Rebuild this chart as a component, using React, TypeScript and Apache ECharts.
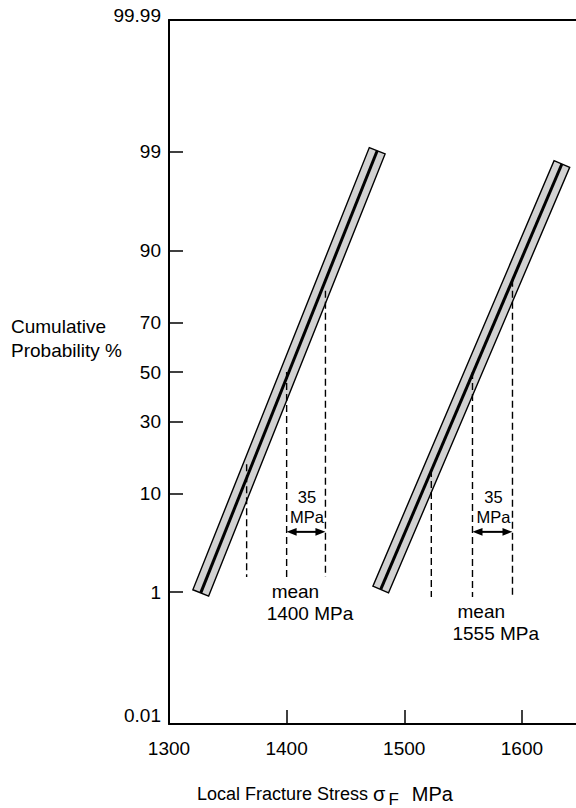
import React, { useEffect, useRef } from 'react';
import * as echarts from 'echarts';

const FONT = '"Liberation Sans", Arial, Helvetica, sans-serif';

// ---- axis ticks / labels ----
const xLabelValues = [1300, 1400, 1500, 1600];
const xTickValues = [1400, 1500, 1600];
const yLabelProbs = [99.99, 99, 90, 70, 50, 30, 10, 1, 0.01];
const yTickProbs = [99, 90, 70, 50, 30, 10, 1];

// ---- fitted distributions (band end points: stress MPa, cumulative probability %) ----
const meanLabels = ['1400 MPa', '1555 MPa'];
const bandLowStress = [1327, 1480];
const bandLowProb = [0.98, 1.08];
const bandHighStress = [1477, 1634];
const bandHighProb = [99.03, 98.6];

// ---- dashed guide lines (stress MPa, top / bottom probability %) ----
const guideLeftStress = [1366, 1523];
const guideMeanStress = [1400, 1558];
const guideRightStress = [1433, 1592];
const guideLeftTopProb = [16.5, 15];
const guideMeanTopProb = [50, 50];
const guideRightTopProb = [80.5, 83.5];
const guideBottomProb = [1.52, 0.875];

// ---- spread arrows ----
const spreadProb = [4.56, 4.56];
const spreadLabel = ['35\nMPa', '35\nMPa'];

// inverse standard normal CDF (Acklam) – the probability-paper scale
function probit(pct: number): number {
  const p = pct / 100;
  const a = [-3.969683028665376e1, 2.209460984245205e2, -2.759285104469687e2, 1.38357751867269e2, -3.066479806614716e1, 2.506628277459239];
  const b = [-5.447609879822406e1, 1.615858368580409e2, -1.556989798598866e2, 6.680131188771972e1, -1.328068155288572e1];
  const c = [-7.784894002430293e-3, -3.223964580411365e-1, -2.400758277161838, -2.549732539343734, 4.374664141464968, 2.938163982698783];
  const d = [7.784695709041462e-3, 3.224671290700398e-1, 2.445134137142996, 3.754408661907416];
  const pl = 0.02425;
  let q: number, r: number;
  if (p < pl) {
    q = Math.sqrt(-2 * Math.log(p));
    return (((((c[0] * q + c[1]) * q + c[2]) * q + c[3]) * q + c[4]) * q + c[5]) / ((((d[0] * q + d[1]) * q + d[2]) * q + d[3]) * q + 1);
  }
  if (p <= 1 - pl) {
    q = p - 0.5;
    r = q * q;
    return ((((((a[0] * r + a[1]) * r + a[2]) * r + a[3]) * r + a[4]) * r + a[5]) * q) / (((((b[0] * r + b[1]) * r + b[2]) * r + b[3]) * r + b[4]) * r + 1);
  }
  q = Math.sqrt(-2 * Math.log(1 - p));
  return -(((((c[0] * q + c[1]) * q + c[2]) * q + c[3]) * q + c[4]) * q + c[5]) / ((((d[0] * q + d[1]) * q + d[2]) * q + d[3]) * q + 1);
}

const Y_MIN = probit(0.01);
const Y_MAX = probit(99.99);

function txt(text: string, x: number, y: number, size: number, align: string, valign: string, lineHeight?: number) {
  return {
    type: 'text',
    x,
    y,
    style: {
      text,
      fill: '#000',
      font: `${size}px ${FONT}`,
      fontSize: size,
      fontFamily: FONT,
      lineHeight: lineHeight || size * 1.2,
      align,
      verticalAlign: valign,
      textAlign: align,
      textVerticalAlign: valign,
    },
  };
}

export default function App() {
  const ref = useRef<HTMLDivElement>(null);

  useEffect(() => {
    if (!ref.current) return;
    const chart = echarts.init(ref.current, null, { renderer: 'svg' });

    const renderItem = (params: any, api: any) => {
      const i = params.dataIndex;
      const H = 8.5;
      const p0 = api.coord([bandLowStress[i], probit(bandLowProb[i])]);
      const p1 = api.coord([bandHighStress[i], probit(bandHighProb[i])]);
      const dx = p1[0] - p0[0];
      const dy = p1[1] - p0[1];
      const len = Math.hypot(dx, dy);
      const nx = (-dy / len) * H;
      const ny = (dx / len) * H;
      const children: any[] = [];
      children.push({
        type: 'polygon',
        shape: {
          points: [
            [p0[0] + nx, p0[1] + ny],
            [p1[0] + nx, p1[1] + ny],
            [p1[0] - nx, p1[1] - ny],
            [p0[0] - nx, p0[1] - ny],
          ],
        },
        style: { fill: '#d2d2d2', stroke: '#000', lineWidth: 1.4 },
      });
      children.push({
        type: 'line',
        shape: { x1: p0[0], y1: p0[1], x2: p1[0], y2: p1[1] },
        style: { stroke: '#000', lineWidth: 3 },
      });
      const guides = [
        [guideLeftStress[i], guideLeftTopProb[i]],
        [guideMeanStress[i], guideMeanTopProb[i]],
        [guideRightStress[i], guideRightTopProb[i]],
      ];
      guides.forEach(([s, top]) => {
        const a = api.coord([s, probit(top)]);
        const b = api.coord([s, probit(guideBottomProb[i])]);
        children.push({
          type: 'line',
          shape: { x1: a[0], y1: a[1], x2: b[0], y2: b[1] },
          style: { stroke: '#000', lineWidth: 1.4, lineDash: [7, 4] },
        });
      });
      // spread arrow
      const ay = api.coord([guideMeanStress[i], probit(spreadProb[i])])[1];
      const xa = api.coord([guideMeanStress[i], 0])[0];
      const xb = api.coord([guideRightStress[i], 0])[0];
      const AL = 10;
      const AW = 3.8;
      children.push({
        type: 'line',
        shape: { x1: xa + AL - 1, y1: ay, x2: xb - AL + 1, y2: ay },
        style: { stroke: '#000', lineWidth: 2 },
      });
      children.push({
        type: 'polygon',
        shape: { points: [[xa, ay], [xa + AL, ay - AW], [xa + AL, ay + AW]] },
        style: { fill: '#000' },
      });
      children.push({
        type: 'polygon',
        shape: { points: [[xb, ay], [xb - AL, ay - AW], [xb - AL, ay + AW]] },
        style: { fill: '#000' },
      });
      children.push(txt(spreadLabel[i], (xa + xb) / 2 + 1, ay - 25, 16.5, 'center', 'middle', 20));
      // mean labels
      const pb = api.coord([guideMeanStress[i], probit(guideBottomProb[i])]);
      children.push(txt('mean', pb[0] - 15, pb[1] + 15, 19, 'left', 'middle'));
      children.push(txt(meanLabels[i], pb[0] - 20, pb[1] + 37, 19, 'left', 'middle'));
      return { type: 'group', children };
    };

    const zLabel = (v: number) => {
      let best = '';
      let bd = Infinity;
      yLabelProbs.forEach((p) => {
        const dd = Math.abs(probit(p) - v);
        if (dd < bd) {
          bd = dd;
          best = String(p);
        }
      });
      if (best === '99.99') return '{up|99.99}';
      if (best === '0.01') return '{dn|0.01}';
      return best;
    };

    const labelRich = {
      up: { fontSize: 19, fontFamily: FONT, color: '#000', padding: [0, 0, 10, 0] },
      dn: { fontSize: 19, fontFamily: FONT, color: '#000', padding: [0, 0, 18, 0] },
    };

    chart.setOption({
      animation: false,
      backgroundColor: '#fff',
      grid: { left: 169, right: 0, top: 20, bottom: 84, containLabel: false },
      xAxis: [
        {
          type: 'value',
          min: 1300,
          max: 1646,
          interval: 100,
          axisLine: { show: true, onZero: false, lineStyle: { color: '#000', width: 2 } },
          axisTick: { show: true, inside: true, length: 14, customValues: xTickValues, lineStyle: { color: '#000', width: 1.5 } },
          axisLabel: {
            show: true,
            customValues: xLabelValues,
            formatter: (v: number) => String(Math.round(v)),
            margin: 15,
            fontSize: 19,
            fontFamily: FONT,
            color: '#000',
          },
          splitLine: { show: false },
        },
        {
          type: 'value',
          position: 'top',
          min: 1300,
          max: 1646,
          axisLine: { show: true, onZero: false, lineStyle: { color: '#000', width: 2 } },
          axisTick: { show: false },
          axisLabel: { show: false },
          splitLine: { show: false },
        },
      ],
      yAxis: {
        type: 'value',
        min: Y_MIN,
        max: Y_MAX,
        axisLine: { show: true, onZero: false, lineStyle: { color: '#000', width: 2 } },
        axisTick: {
          show: true,
          inside: true,
          length: 14,
          customValues: yTickProbs.map(probit),
          lineStyle: { color: '#000', width: 1.5 },
        },
        axisLabel: {
          show: true,
          customValues: yLabelProbs.map(probit),
          formatter: zLabel,
          margin: 8,
          fontSize: 19,
          fontFamily: FONT,
          color: '#000',
          rich: labelRich,
        },
        splitLine: { show: false },
      },
      graphic: [
        {
          type: 'text',
          left: 11,
          top: 315,
          style: {
            text: 'Cumulative\nProbability %',
            font: `19px ${FONT}`,
            fill: '#000',
            lineHeight: 23.5,
          },
        },
        {
          type: 'text',
          left: 197,
          top: 784,
          style: {
            text: '{a|Local Fracture Stress }{s|σ}{sub|F}{m|MPa}',
            rich: {
              a: { fontSize: 18, fontFamily: FONT, color: '#000' },
              s: { fontSize: 20, fontFamily: FONT, color: '#000' },
              sub: { fontSize: 17, fontFamily: FONT, color: '#000', padding: [11, 13, 0, 3] },
              m: { fontSize: 20, fontFamily: FONT, color: '#000' },
            },
          },
        },
      ],
      series: [
        {
          type: 'custom',
          xAxisIndex: 0,
          yAxisIndex: 0,
          clip: false,
          renderItem,
          data: bandLowStress.map((s, i) => [s, probit(bandLowProb[i])]),
        },
      ],
    });

    return () => chart.dispose();
  }, []);

  return (
    <div
      ref={ref}
      style={{ position: 'absolute', left: 0, top: 0, width: 576, height: 808, background: '#fff' }}
    />
  );
}
